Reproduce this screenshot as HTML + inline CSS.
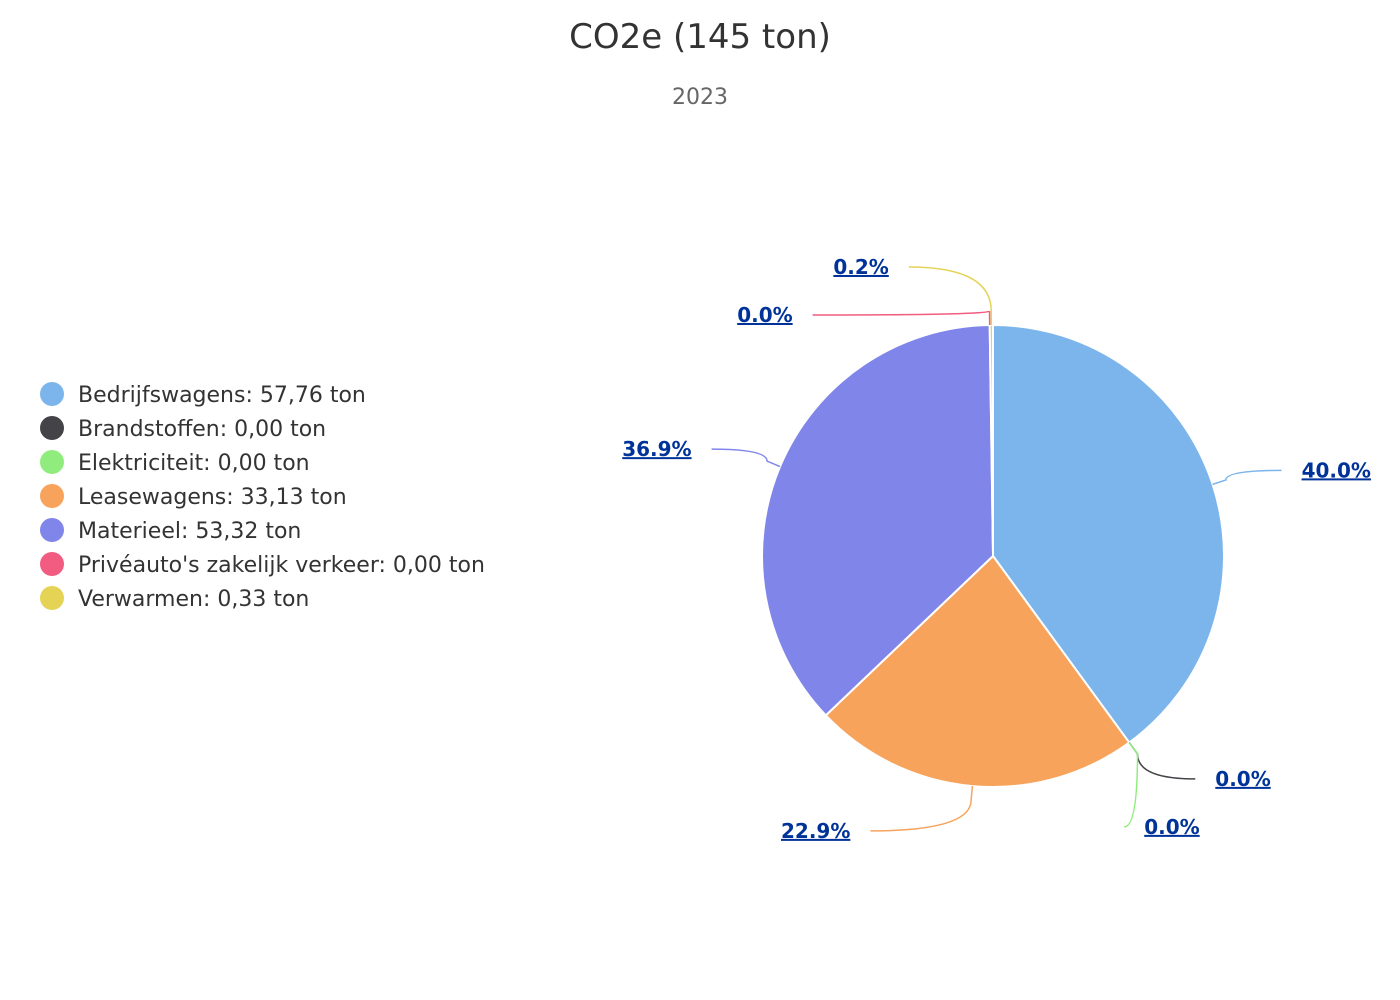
<!DOCTYPE html>
<html><head><meta charset="utf-8">
<style>
body{margin:0;background:#fff;}
svg{display:block;font-family:"DejaVu Sans","Liberation Sans",sans-serif;}
</style></head>
<body>
<svg id="chart" width="1400" height="1000">
  <text x="700" y="48" text-anchor="middle" font-size="34" fill="#333">CO2e (145 ton)</text>
  <text x="700" y="104" text-anchor="middle" font-size="22" fill="#666">2023</text>
  <g id="legend"></g>
  <g id="slices"></g>
  <g id="labels"></g>
</svg>
<script>
const categories = ["Bedrijfswagens","Brandstoffen","Elektriciteit","Leasewagens","Materieel","Privéauto's zakelijk verkeer","Verwarmen"];
const values = [57.76, 0.00, 0.00, 33.13, 53.32, 0.00, 0.33];
const valueLabels = ["57,76","0,00","0,00","33,13","53,32","0,00","0,33"];
const colors = ["#7cb5ec","#434348","#90ed7d","#f7a35c","#8085e9","#f15c80","#e4d354"];

const NS="http://www.w3.org/2000/svg";
const cx=993, cy=556, r=231;
function mk(tag, attrs, parent){const e=document.createElementNS(NS,tag);for(const k in attrs)e.setAttribute(k,attrs[k]);parent.appendChild(e);return e;}
function pt(deg, rad){const a=deg*Math.PI/180;return [cx+rad*Math.sin(a), cy-rad*Math.cos(a)];}

// legend
const lg=document.getElementById('legend');
categories.forEach((c,i)=>{
  const y=394+i*34;
  const dot=mk('circle',{cx:52,cy:y,r:12,fill:colors[i]},lg);
  
  
  const t=mk('text',{x:78,y:y+8,'font-size':22,fill:'#333'},lg);
  t.textContent=c+': '+valueLabels[i]+' ton';
  
  
});

// slices
const total=values.reduce((a,b)=>a+b,0);
const sg=document.getElementById('slices');
let start=0; const mids=[];
values.forEach((v,i)=>{
  const sweep=v/total*360, end=start+sweep;
  mids.push({i, mid:start+sweep/2, pct:(v/total*100).toFixed(1)+'%'});
  if(sweep>0){
    const [x1,y1]=pt(start,r),[x2,y2]=pt(end,r);
    const p=mk('path',{d:`M${cx},${cy} L${x1},${y1} A${r},${r} 0 ${sweep>180?1:0} 1 ${x2},${y2} Z`,fill:colors[i],stroke:'#fff','stroke-width':2,'stroke-linejoin':'round'},sg);
    
    
  }
  start=end;
});

// labels
const lbg=document.getElementById('labels');
const right=[], left=[];
mids.forEach(m=>{
  m.y=cy-(r+45)*Math.cos(m.mid*Math.PI/180);
  (Math.sin(m.mid*Math.PI/180)>=-0.0001 && m.mid<180 ? right:left).push(m);
});
function distribute(arr){
  arr.sort((a,b)=>a.y-b.y);
  for(let k=1;k<arr.length;k++) if(arr[k].y<arr[k-1].y+48) arr[k].y=arr[k-1].y+48;
}
distribute(right); distribute(left);
left.forEach(m=>{ if(m.mid>300) m.y-=13; });
function draw(m, side){
  const dy=m.y-cy, R=r+70;
  const dx=Math.sqrt(Math.max(0,R*R-dy*dy));
  const ex=cx+side*dx;
  const [ax,ay]=pt(m.mid,r);
  const [bx,by]=pt(m.mid,r+14);
  const path=mk('path',{d:`M${ax},${ay} L${bx},${by} Q${bx},${m.y} ${ex},${m.y}`,fill:'none',stroke:colors[m.i],'stroke-width':1.5},lbg);
  
  
  const t=mk('text',{x:ex+side*20,y:m.y+7,'text-anchor':side>0?'start':'end','font-size':20,'font-weight':'bold',fill:'#003399','text-decoration':'underline'},lbg);
  t.textContent=m.pct;
  
  
}
right.forEach(m=>draw(m,1)); left.forEach(m=>draw(m,-1));
</script>
</body></html>
